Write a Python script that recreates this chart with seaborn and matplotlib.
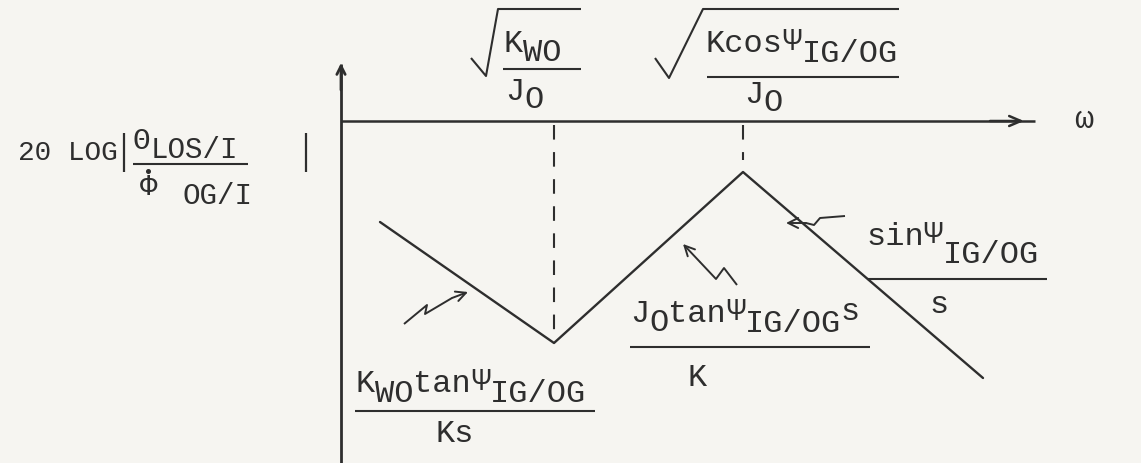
import matplotlib
matplotlib.use("Agg")
import matplotlib.pyplot as plt
import seaborn as sns
import pandas as pd

# Asymptotic Bode magnitude sketch, drawn in a page coordinate frame
# (x to the right, y downward) so the typed labels can sit beside it.
bode_w = [380, 554, 743, 983]          # ends and corner frequencies
bode_mag = [222, 343, 172, 378]        # asymptote level at those points
corner_idx = [1, 2]                    # corners marked with dashed guides
axis_origin = (341, 121)               # where the magnitude and ω axes meet

INK = "#2e2e2e"
PAPER = "#f6f5f1"
FS = 23
DPI = 100
MONO = ["Liberation Mono", "DejaVu Sans Mono"]

sns.set_theme(style="white")
plt.rcParams["font.family"] = MONO

fig = plt.figure(figsize=(11.41, 4.63), dpi=DPI, facecolor=PAPER)
ax = fig.add_axes([0, 0, 1, 1])
ax.set_facecolor(PAPER)


def typed(x, y, parts, size=FS):
    """Typewriter-style text: each part is (string, baseline shift)."""
    cw = 0.6 * size * DPI / 72
    for s, dy in parts:
        ax.text(x, y + dy, s, fontsize=size, ha="left", va="baseline",
                color=INK, family=MONO)
        x += len(s) * cw


def seg(xs, ys, lw=1.6, **kw):
    ax.plot(xs, ys, color=INK, lw=lw, solid_capstyle="butt", **kw)


def head(tip, tail, lw=1.5, hl=0.55, hw=0.28):
    ax.annotate("", xy=tip, xytext=tail,
                arrowprops=dict(arrowstyle=f"->,head_length={hl},head_width={hw}",
                                lw=lw, color=INK, shrinkA=0, shrinkB=0))


# asymptotes
df = pd.DataFrame({"w": bode_w, "mag": bode_mag})
sns.lineplot(data=df, x="w", y="mag", sort=False, estimator=None,
             color=INK, lw=1.7, ax=ax)
ax.set_xlim(0, 1141)
ax.set_ylim(463, 0)
ax.axis("off")

ox, oy = axis_origin
# magnitude axis (upward arrow) and ω axis (rightward arrow)
seg([ox, ox], [463, 64], lw=2.0)
head((ox, 63), (ox, 90), lw=2.0, hl=0.5, hw=0.25)
seg([ox, 1035], [oy, oy], lw=1.8)
head((1024, oy), (990, oy), lw=1.8, hl=0.7, hw=0.3)
typed(1074, oy + 7, [("ω", 0)])

# dashed guides from the ω axis to the corners
i1, i2 = corner_idx
ax.vlines(bode_w[i1], oy + 4, bode_mag[i1] - 2, colors=INK, lw=1.5,
          linestyles=(0, (7, 6)))
ax.vlines(bode_w[i2], oy + 4, bode_mag[i2] - 12, colors=INK, lw=1.5,
          linestyles=(0, (7, 6)))

# --- ordinate label: 20 LOG |Θ_LOS/I / Φ̇_OG/I| ---
typed(18, 160, [("20 LOG", 0)], size=20)
seg([124, 124], [133, 172], lw=1.6)
seg([306, 306], [133, 172], lw=1.6)
typed(133, 158, [("Θ", -9), ("LOS/I", 0)], size=21)
seg([133, 248], [164, 164], lw=1.5)
typed(140, 195, [("Φ", 0)], size=21)
ax.plot([148], [171], "o", ms=2.6, color=INK)
typed(183, 204, [("OG/I", 0)], size=21)

# --- corner frequency √(K_WO / J_O) ---
seg([471, 486, 498, 581], [58, 76, 9, 9], lw=1.5)
typed(504, 52, [("K", 0), ("WO", 9)])
seg([503, 581], [69, 69], lw=1.5)
typed(505, 100, [("J", 0), ("O", 8)])

# --- corner frequency √(K cosΨ_IG/OG / J_O) ---
seg([655, 669, 703, 899], [58, 78, 9, 9], lw=1.5)
typed(706, 52, [("Kcos", 0), ("Ψ", -2), ("IG/OG", 10)])
seg([707, 899], [77, 77], lw=1.5)
typed(744, 103, [("J", 0), ("O", 8)])

# --- slope labels ---
typed(356, 392, [("K", 0), ("WO", 10), ("tan", 0), ("Ψ", -2), ("IG/OG", 10)])
seg([355, 595], [411, 411], lw=1.5)
typed(436, 442, [("Ks", 0)])

typed(630, 322, [("J", 0), ("O", 9), ("tan", 0), ("Ψ", -2), ("IG/OG", 10), ("s", -2)])
seg([630, 870], [347, 347], lw=1.5)
typed(688, 386, [("K", 0)])

typed(866, 245, [("sin", 0), ("Ψ", -2), ("IG/OG", 18)])
seg([867, 1047], [279, 279], lw=1.5)
typed(929, 313, [("s", 0)])

# --- zig-zag pointers from the labels to their asymptotes ---
seg([404, 427, 425, 452], [324, 305, 314, 298], lw=1.4)
head((468, 292), (452, 298), lw=1.4, hl=0.6, hw=0.3)

seg([737, 724, 716, 700], [285, 268, 279, 262], lw=1.4)
head((683, 244), (700, 262), lw=1.4, hl=0.6, hw=0.3)

seg([845, 820, 814, 806], [216, 218, 225, 223], lw=1.4)
head((786, 223), (806, 223), lw=1.4, hl=0.6, hw=0.3)

fig.savefig("out.png", dpi=DPI, facecolor=PAPER)
